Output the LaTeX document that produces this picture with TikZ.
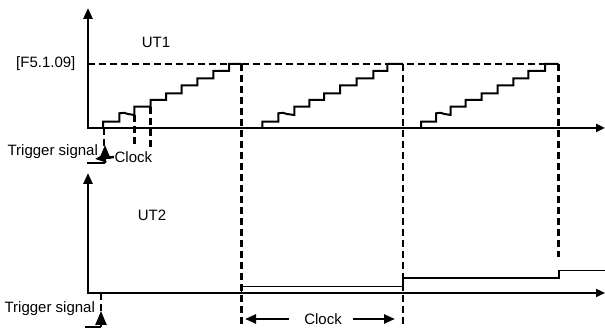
\documentclass[tikz,border=0pt]{standalone}
\usepackage{fontspec}
\setmainfont{Liberation Sans}
\usetikzlibrary{arrows.meta}
\tikzset{
  every picture/.style={font=\fontsize{15}{18}\selectfont, line width=1.2pt},
  axis/.style={line width=2.6pt, {Triangle[length=11pt, width=9pt]}-{Triangle[length=9pt, width=8pt]}},
  guide/.style={dash pattern=on 7pt off 4pt, line width=2.8pt},
  stair/.style={line width=2pt, line join=miter},
  outline/.style={line width=1.6pt},
  arrow/.style={-{Triangle[length=11pt, width=9pt]}, line width=2.4pt},
  trigger/.style={-{Triangle[length=14pt, width=11pt]}, line width=2.4pt},
  label/.style={inner sep=0pt},
}

\begin{document}
\begin{tikzpicture}[x=1pt, y=-1pt]
  \useasboundingbox (0,0) rectangle (605,328);
  \coordinate (o1) at (88,128);
  \coordinate (o2) at (88,293);

  % UT1
  \draw[axis] (88,8) -- (o1) -- (605,128);
  \draw[guide] (88,64) -- (558.5,64);
  \draw[stair] (103,128) -- (103,121.7) -- (119.3,121.7) -- (119.3,113.3) -- (124,112.8) -- (128,114) -- (134.3,115)
    -- (134.3,106.7) -- (150.7,106.7) -- (150.7,100) -- (166,100) -- (166,93.3) -- (181.7,93.3) -- (181.7,85.5)
    -- (197.3,85.5) -- (197.3,78.3) -- (213.3,78.3) -- (213.3,71) -- (229,71) -- (229,64) -- (241.5,64);
  \draw[stair] (262.3,128) -- (262.3,121.7) -- (278.3,121.7) -- (278.3,113.3) -- (283,112.8) -- (287,114) -- (294.3,115)
    -- (294.3,106.7) -- (309.3,106.7) -- (309.3,100) -- (324,100) -- (324,93.3) -- (340,93.3) -- (340,85.5)
    -- (356.7,85.5) -- (356.7,78.3) -- (373.3,78.3) -- (373.3,71) -- (387.3,71) -- (387.3,64) -- (403,64);
  \draw[stair] (421,128) -- (421,121.7) -- (436,121.7) -- (436,113.3) -- (440.5,112.8) -- (444.5,114) -- (450.7,115)
    -- (450.7,106.7) -- (465.7,106.7) -- (465.7,100) -- (481.7,100) -- (481.7,93.3) -- (497.7,93.3) -- (497.7,85.5)
    -- (513.3,85.5) -- (513.3,78.3) -- (528.3,78.3) -- (528.3,71) -- (545,71) -- (545,64) -- (558.5,64);
  \node[label, anchor=east] (level) at (76,64) {[F5.1.09]};
  \node[label] (ut1) at (156,42) {UT1};

  \draw[guide] (104,128) -- (104,146);
  \draw[guide] (134.3,115) -- (134.3,147);
  \draw[guide] (150.7,106.7) -- (150.7,147);
  \node[label, anchor=west] (trig1) at (7,152) {Trigger signal};
  \node[label, anchor=west] (clock1) at (114,157) {Clock};
  \draw[line width=2.4pt] (87,163) -- (105,163);
  \draw[trigger] (105,163) -- (105,145);
  \draw[arrow] (clock1.west) -- (95,159);

  % UT2
  \draw[axis] (88,173) -- (o2) -- (605,293);
  \node[label] (ut2) at (152,215) {UT2};
  \draw[outline] (241.5,293) -- (241.5,286.5) -- (403,286.5) -- (403,278) -- (559,278) -- (559,270.5) -- (605,270.5);

  \draw[guide] (241.5,64) -- (241.5,326);
  \draw[guide] (403,64) -- (403,326);
  \draw[guide] (558.5,64) -- (558.5,257);

  \draw[guide] (101,293) -- (101,311);
  \node[label, anchor=west] (trig2) at (4,309) {Trigger signal};
  \draw[line width=2.4pt] (85,327) -- (101,327);
  \draw[trigger] (101,327) -- (101,311);

  \coordinate (c2a) at (245,319);
  \coordinate (c2b) at (395,319);
  \node[label] (clock2) at (323,319) {Clock};
  \draw[arrow] ([xshift=-15pt]clock2.west) -- (c2a);
  \draw[arrow] ([xshift=11pt]clock2.east) -- (c2b);
\end{tikzpicture}
\end{document}
